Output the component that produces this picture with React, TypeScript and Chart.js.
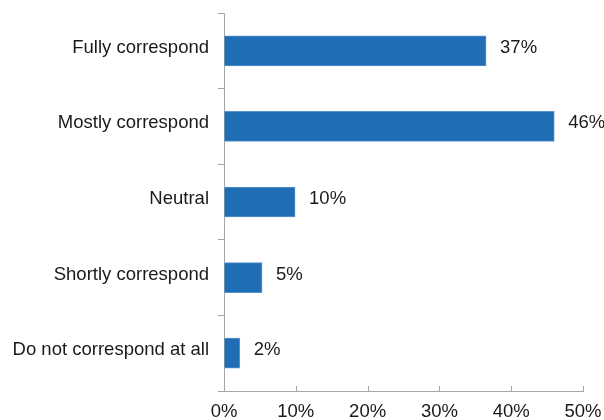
import React, { useEffect, useRef } from "react";
import { Chart, registerables } from "chart.js";

Chart.register(...registerables);

const categories = [
  "Fully correspond",
  "Mostly correspond",
  "Neutral",
  "Shortly correspond",
  "Do not correspond at all",
];
const values = [36.5, 46.0, 9.9, 5.3, 2.2];
const valueLabels = ["37%", "46%", "10%", "5%", "2%"];
const xTicks = [0, 10, 20, 30, 40, 50];

const FONT = "'Liberation Sans', Arial, sans-serif";
const FS = 18.5;
const AXIS = "#a6a6a6";
const TEXT = "#1a1a1a";

const labelsPlugin = {
  id: "labelsPlugin",
  afterDatasetsDraw(chart: any) {
    const ctx = chart.ctx;
    const meta = chart.getDatasetMeta(0);
    const ys = chart.scales.y;
    ctx.save();
    ctx.font = `${FS}px ${FONT}`;
    ctx.fillStyle = TEXT;
    ctx.textBaseline = "middle";
    ctx.textAlign = "left";
    meta.data.forEach((bar: any, i: number) => {
      ctx.fillText(valueLabels[i], bar.x + 14, bar.y - 3);
    });
    ctx.textAlign = "right";
    categories.forEach((c, i) => {
      ctx.fillText(c, ys.right - 15, ys.getPixelForTick(i) - 3);
    });
    ctx.restore();
  },
};

const innerTicksPlugin = {
  id: "innerTicks",
  afterDraw(chart: any) {
    const ctx = chart.ctx;
    const xs = chart.scales.x;
    const bottom = chart.chartArea.bottom;
    ctx.save();
    ctx.strokeStyle = AXIS;
    ctx.lineWidth = 1;
    xTicks.forEach((v) => {
      const px = Math.round(xs.getPixelForValue(v)) + 0.5;
      ctx.beginPath();
      ctx.moveTo(px, bottom);
      ctx.lineTo(px, bottom - 5);
      ctx.stroke();
    });
    ctx.restore();
  },
};

export default function App() {
  const ref = useRef<HTMLCanvasElement>(null);
  useEffect(() => {
    if (!ref.current) return;
    const chart = new Chart(ref.current, {
      type: "bar",
      data: {
        labels: categories,
        datasets: [
          {
            data: values,
            backgroundColor: "#1f6db5",
            borderColor: "#5a95d0",
            borderWidth: 1,
            barThickness: 30,
          },
        ],
      },
      options: {
        indexAxis: "y",
        animation: false,
        responsive: false,
        maintainAspectRatio: false,
        layout: { padding: { top: 13, right: 21, left: 0, bottom: 0 } },
        plugins: { legend: { display: false }, tooltip: { enabled: false } },
        scales: {
          x: {
            min: 0,
            max: 50,
            afterBuildTicks(scale: any) {
              scale.ticks = xTicks.map((v) => ({ value: v }));
            },
            afterFit(scale: any) {
              scale.height = 29;
              scale.paddingLeft = 0;
              scale.paddingRight = 0;
            },
            grid: { display: true, drawOnChartArea: false, drawTicks: false },
            border: { display: true, color: AXIS, width: 1 },
            ticks: {
              padding: 10,
              color: TEXT,
              font: { family: FONT, size: FS },
              callback: (v: any) => `${v}%`,
              maxRotation: 0,
            },
          },
          y: {
            afterFit(scale: any) {
              scale.width = 224;
              scale.paddingTop = 0;
              scale.paddingBottom = 0;
            },
            grid: {
              display: true,
              drawOnChartArea: false,
              drawTicks: true,
              tickLength: 6,
              color: AXIS,
              offset: true,
            },
            border: { display: true, color: AXIS, width: 1 },
            ticks: { display: false },
          },
        },
      },
      plugins: [labelsPlugin, innerTicksPlugin],
    } as any);
    return () => chart.destroy();
  }, []);
  return (
    <div style={{ position: "fixed", left: 0, top: 0, width: 604, height: 420, background: "#fff" }}>
      <canvas ref={ref} width={604} height={420} style={{ width: 604, height: 420 }} />
    </div>
  );
}
